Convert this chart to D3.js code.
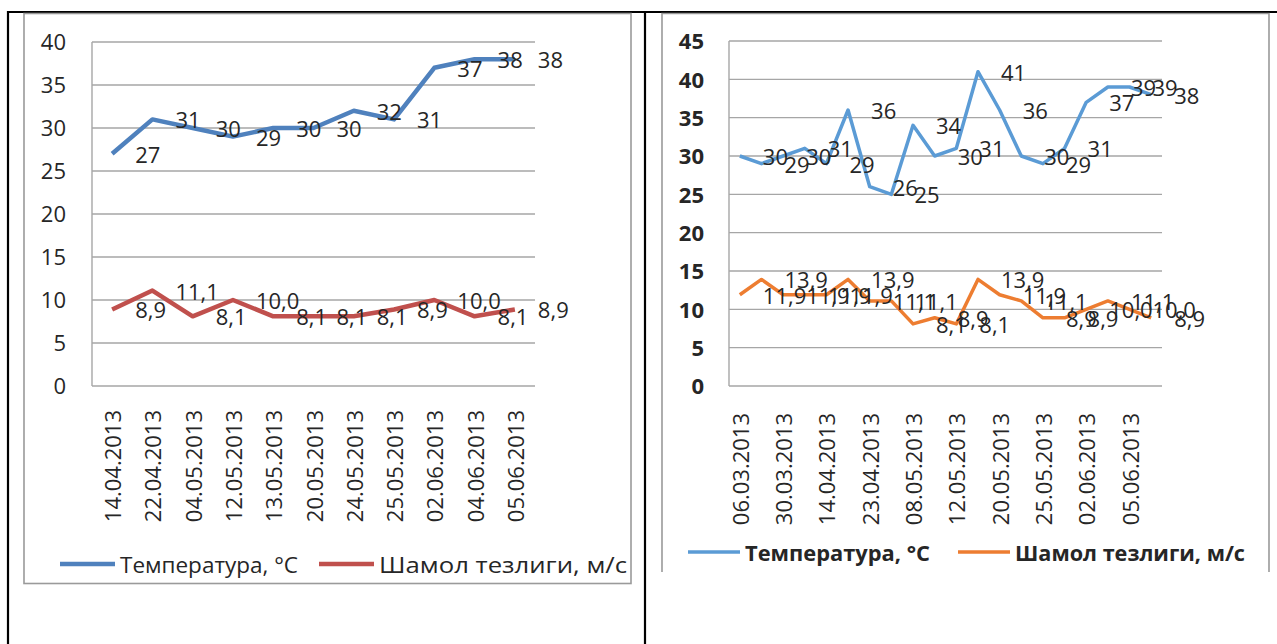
<!DOCTYPE html>
<html>
<head>
<meta charset="utf-8">
<script src="https://cdn.jsdelivr.net/npm/d3@7"></script>
<style>
  html, body { margin: 0; padding: 0; background: #fff; }
  svg { display: block; }
  text { font-family: "Open Sans", sans-serif; fill: #262626; }
</style>
</head>
<body>
<svg id="chart" width="1277" height="644"></svg>
<script>
// Left chart: 11 observation dates
const datesA = ["14.04.2013","22.04.2013","04.05.2013","12.05.2013","13.05.2013","20.05.2013",
                "24.05.2013","25.05.2013","02.06.2013","04.06.2013","05.06.2013"];
const tempA = [27, 31, 30, 29, 30, 30, 32, 31, 37, 38, 38];
const windA = [8.9, 11.1, 8.1, 10.0, 8.1, 8.1, 8.1, 8.9, 10.0, 8.1, 8.9];
const ticksA = [0, 5, 10, 15, 20, 25, 30, 35, 40];

// Right chart: 20 observation dates (every second one is labelled)
const datesB = ["06.03.2013","15.03.2013","30.03.2013","06.04.2013","14.04.2013","22.04.2013",
                "23.04.2013","04.05.2013","08.05.2013","10.05.2013","12.05.2013","13.05.2013",
                "20.05.2013","24.05.2013","25.05.2013","28.05.2013","02.06.2013","04.06.2013",
                "05.06.2013","08.06.2013"];
const tempB = [30, 29, 30, 31, 29, 36, 26, 25, 34, 30, 31, 41, 36, 30, 29, 31, 37, 39, 39, 38];
const windB = [11.9, 13.9, 11.9, 11.9, 11.9, 13.9, 11.1, 11.1, 8.1, 8.9, 8.1, 13.9, 11.9, 11.1,
               8.9, 8.9, 10.0, 11.1, 10.0, 8.9];
const ticksB = [0, 5, 10, 15, 20, 25, 30, 35, 40, 45];

const seriesNames = ["Температура, °C", "Шамол тезлиги, м/с"];

const svg = d3.select("#chart");
svg.append("rect").attr("width", 1277).attr("height", 644).attr("fill", "#fff");

const fmtInt = d => d3.format("d")(d);
const fmtDec = d => d3.format(".1f")(d).replace(".", ",");

function drawChart(cfg) {
  const g = svg.append("g");
  const x = d3.scaleBand().domain(cfg.dates).range([cfg.left, cfg.right]);
  const y = d3.scaleLinear().domain([0, cfg.ticks[cfg.ticks.length - 1]]).range([cfg.bottom, cfg.top]);
  const cx = d => x(d) + x.bandwidth() / 2;

  // horizontal gridlines
  g.selectAll("line.grid").data(cfg.ticks).join("line")
    .attr("x1", cfg.left).attr("x2", cfg.right)
    .attr("y1", d => y(d)).attr("y2", d => y(d))
    .attr("stroke", "#a6a6a6").attr("stroke-width", 1.4);
  // vertical axis line
  g.append("line").attr("x1", cfg.left).attr("x2", cfg.left)
    .attr("y1", y(cfg.ticks[cfg.ticks.length - 1])).attr("y2", y(0))
    .attr("stroke", "#a6a6a6").attr("stroke-width", 1.4);

  // y tick labels
  const yAxis = d3.axisLeft(y).tickValues(cfg.ticks).tickSize(0).tickPadding(0);
  const ya = g.append("g").attr("transform", `translate(${cfg.yLabelX},0)`).call(yAxis);
  ya.select(".domain").remove();
  ya.selectAll("text")
    .style("font-family", "Open Sans, sans-serif")
    .style("font-size", cfg.yFont + "px")
    .style("font-weight", cfg.yBold ? "bold" : "normal")
    .attr("fill", "#1a1a1a")
    .attr("dy", "0.36em");

  // x tick labels, rotated
  const shown = cfg.dates.filter((d, i) => i % cfg.labelEvery === 0);
  const xAxis = d3.axisBottom(x).tickValues(shown).tickSize(0).tickPadding(0);
  const xa = g.append("g").attr("transform", `translate(0,${cfg.xLabelY})`).call(xAxis);
  xa.select(".domain").remove();
  xa.selectAll("text")
    .style("font-family", "Open Sans, sans-serif")
    .style("font-size", cfg.xFont + "px")
    .attr("fill", "#262626")
    .attr("text-anchor", "end")
    .attr("dy", null).attr("y", 0)
    .attr("dominant-baseline", "central")
    .attr("transform", "rotate(-90)");

  // series lines
  const series = [
    { values: cfg.temp, color: cfg.colors[0], fmt: fmtInt },
    { values: cfg.wind, color: cfg.colors[1], fmt: fmtDec }
  ];
  const line = d3.line().x(d => cx(d.k)).y(d => y(d.v));
  series.forEach(s => {
    const pts = s.values.map((v, i) => ({ k: cfg.dates[i], v }));
    g.append("path").datum(pts).attr("d", line)
      .attr("fill", "none").attr("stroke", s.color)
      .attr("stroke-width", cfg.lineWidth).attr("stroke-linejoin", "round");
  });
  // data labels to the right of each point
  series.forEach(s => {
    const pts = s.values.map((v, i) => ({ k: cfg.dates[i], v }));
    g.selectAll(null).data(pts).join("text")
      .attr("x", d => cx(d.k) + cfg.labelDx)
      .attr("y", d => y(d.v))
      .attr("dominant-baseline", "central")
      .style("font-size", cfg.labelFont + "px")
      .text(d => s.fmt(d.v));
  });

  // legend
  cfg.legend.forEach((it, i) => {
    g.append("line").attr("x1", it.x).attr("x2", it.x + cfg.legendLine)
      .attr("y1", cfg.legendY).attr("y2", cfg.legendY)
      .attr("stroke", cfg.colors[i]).attr("stroke-width", cfg.lineWidth);
    const t = g.append("text").attr("x", it.x + cfg.legendLine + 5).attr("y", cfg.legendY)
      .attr("dominant-baseline", "central")
      .style("font-size", cfg.legendFont + "px")
      .style("font-weight", cfg.legendBold ? "bold" : "normal")
      .text(seriesNames[i]);
    if (it.len) t.attr("textLength", it.len).attr("lengthAdjust", "spacingAndGlyphs");
  });
}

// outer table borders
svg.append("path").attr("d", "M8,644 V12 H1277 M645,12 V644")
  .attr("fill", "none").attr("stroke", "#000").attr("stroke-width", 2.2);

// chart frames
svg.append("rect").attr("x", 24).attr("y", 13.5).attr("width", 607).attr("height", 570)
  .attr("fill", "none").attr("stroke", "#9a9a9a").attr("stroke-width", 1.6);
svg.append("path").attr("d", "M662,572 V13.5 H1269 V572")
  .attr("fill", "none").attr("stroke", "#9a9a9a").attr("stroke-width", 1.6);

drawChart({
  dates: datesA, temp: tempA, wind: windA, ticks: ticksA,
  left: 92, right: 535, top: 42, bottom: 386,
  yLabelX: 66, yFont: 22, yBold: false,
  xLabelY: 410, xFont: 22, labelEvery: 1,
  colors: ["#4f81bd", "#c0504d"], lineWidth: 4.5,
  labelDx: 23, labelFont: 22,
  legendY: 564, legendLine: 55, legendFont: 22, legendBold: false,
  legend: [{ x: 60, len: 178 }, { x: 319, len: 248 }]
});

drawChart({
  dates: datesB, temp: tempB, wind: windB, ticks: ticksB,
  left: 729, right: 1162, top: 41, bottom: 386,
  yLabelX: 704, yFont: 22, yBold: true,
  xLabelY: 413, xFont: 22, labelEvery: 2,
  colors: ["#5b9bd5", "#ed7d31"], lineWidth: 3.5,
  labelDx: 23, labelFont: 22,
  legendY: 552, legendLine: 52, legendFont: 22, legendBold: true,
  legend: [{ x: 688, len: 185 }, { x: 958, len: 230 }]
});
</script>
</body>
</html>
